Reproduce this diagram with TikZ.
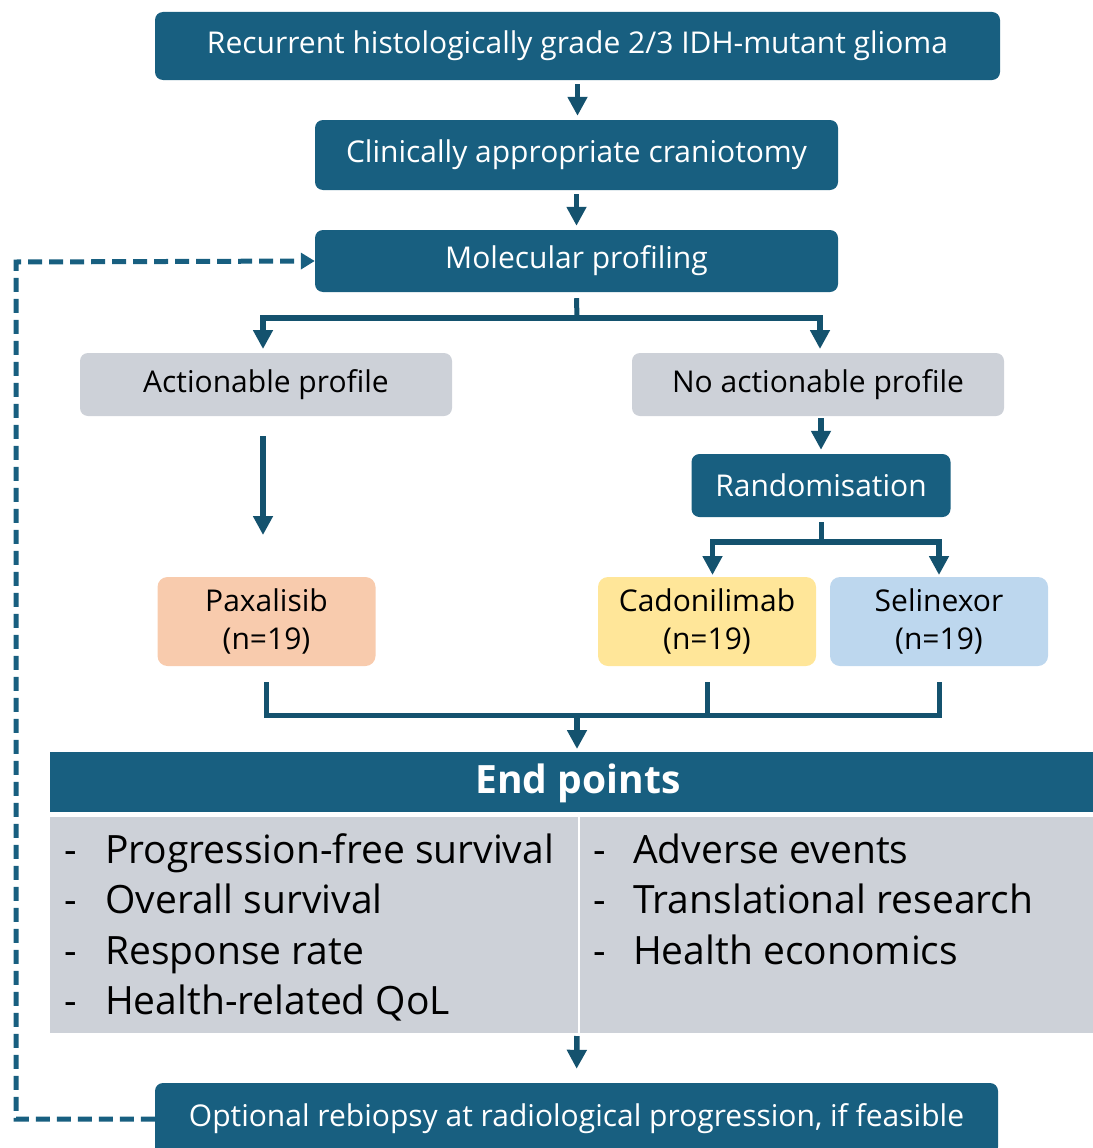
\documentclass[tikz,border=0pt]{standalone}
\usepackage{fontspec}
\setmainfont{Open Sans}
\usetikzlibrary{arrows.meta}
\definecolor{dteal}{HTML}{185F80}
\definecolor{arrc}{HTML}{14526E}
\definecolor{gbox}{HTML}{CDD1D8}
\definecolor{peach}{HTML}{F8CBAD}
\definecolor{yel}{HTML}{FFE699}
\definecolor{lblue}{HTML}{BDD7EE}
\begin{document}
\begin{tikzpicture}[x=1pt,y=-1pt,
  boxfont/.style={font=\fontsize{30}{38}\selectfont},
  dbox/.style={boxfont, fill=dteal, text=white, rounded corners=8pt, inner sep=0pt, align=center},
  gbx/.style={boxfont, fill=gbox, text=black, rounded corners=8pt, inner sep=0pt, minimum width=372pt, minimum height=63pt},
  drug/.style={boxfont, text=black, rounded corners=10pt, inner sep=0pt, align=center, minimum width=218pt, minimum height=89pt},
  arr/.style={draw=arrc, line width=5.5pt, -{Triangle[length=19pt,width=19pt]}},
  ln/.style={draw=arrc, line width=5pt},
  dasharr/.style={draw=dteal, line width=5pt, dash pattern=on 14pt off 7pt, -{Triangle[length=14pt,width=16pt]}},
  item/.style={font=\fontsize{39}{44}\selectfont, anchor=base west, inner sep=0pt, text=black}
]
\useasboundingbox (0,0) rectangle (1092,1148);

% main column
\node[dbox, minimum width=845pt, minimum height=68pt] (top) at (577.5,46) {Recurrent histologically grade 2/3 IDH-mutant glioma};
\node[dbox, minimum width=523pt, minimum height=70pt] (crani) at (576.5,155) {Clinically appropriate craniotomy};
\node[dbox, minimum width=523pt, minimum height=62pt] (mol) at (576.5,261) {Molecular profiling};

\node[gbx] (act) at (266,384.5) {Actionable profile};
\node[gbx] (noact) at (818,384.5) {No actionable profile};
\node[dbox, minimum width=259pt, minimum height=63pt] (rand) at (821,485.5) {Randomisation};

\node[drug, fill=peach] (pax) at (266.5,621.5) {Paxalisib\\(n=19)};
\node[drug, fill=yel] (cad) at (707,621.5) {Cadonilimab\\(n=19)};
\node[drug, fill=lblue] (sel) at (939,621.5) {Selinexor\\(n=19)};

% end points panel
\fill[dteal] (50,752) rectangle (1100,812);
\node[font=\fontsize{39}{40}\selectfont\bfseries, text=white, inner sep=0pt] (ephead) at (578,783) {End points};
\fill[gbox] (50,817) rectangle (1100,1033);
\draw[white, line width=2pt] (578.5,817) -- (578.5,1033);
\coordinate (epin) at (577,752);
\coordinate (epout) at (577,1033);

\foreach \y/\t [count=\i] in {863/Progression-free survival, 913/Overall survival, 964/Response rate, 1014/Health-related QoL}{
  \node[item] (ld\i) at (64,\y) {-};
  \node[item] (lt\i) at (105,\y) {\t};
}
\foreach \y/\t [count=\i] in {863/Adverse events, 913/Translational research, 964/Health economics}{
  \node[item] (rd\i) at (593,\y) {-};
  \node[item] (rt\i) at (633,\y) {\t};
}

\node[dbox, minimum width=843pt, minimum height=72pt] (bot) at (576.5,1119) {Optional rebiopsy at radiological progression, if feasible};

% connectors
\draw[arr, shorten <=4pt, shorten >=4pt] (top.south) -- (top.south |- crani.north);
\draw[arr, shorten <=4pt, shorten >=4pt] (crani.south) -- (mol.north);

\coordinate (b1) at ([yshift=-6pt]mol.south);
\coordinate (b2) at (577,318);
\draw[ln] (b1) -- (b2);
\draw[arr, shorten >=4pt] (b2) -| (263,353);
\draw[arr, shorten >=4pt] (b2) -| (820,353);

\draw[arr] (263,436) -- (263,535);
\draw[arr, shorten <=2pt, shorten >=4pt] (noact.south -| rand.north) -- (rand.north);

\coordinate (r1) at ([yshift=-5pt]rand.south);
\coordinate (r2) at (821,542);
\draw[ln] (r1) -- (r2);
\draw[arr, shorten >=2pt] (r2) -| (712.5,577);
\draw[arr, shorten >=2pt] (r2) -| (939,577);

\coordinate (m1) at (577,715);
\draw[ln] ([yshift=-16pt]pax.south) |- (m1);
\draw[ln] ([yshift=-16pt]sel.south) |- (m1);
\draw[ln] ([yshift=-16pt]cad.south) -- (cad.south |- m1);
\draw[arr, shorten >=3pt] (m1) -- (epin);

\draw[arr, shorten <=3pt, shorten >=14pt] (epout) -- (bot.north);

\draw[dasharr] (bot.west) -- (16,1119) -- (16,262) -- (mol.west);
\end{tikzpicture}
\end{document}
